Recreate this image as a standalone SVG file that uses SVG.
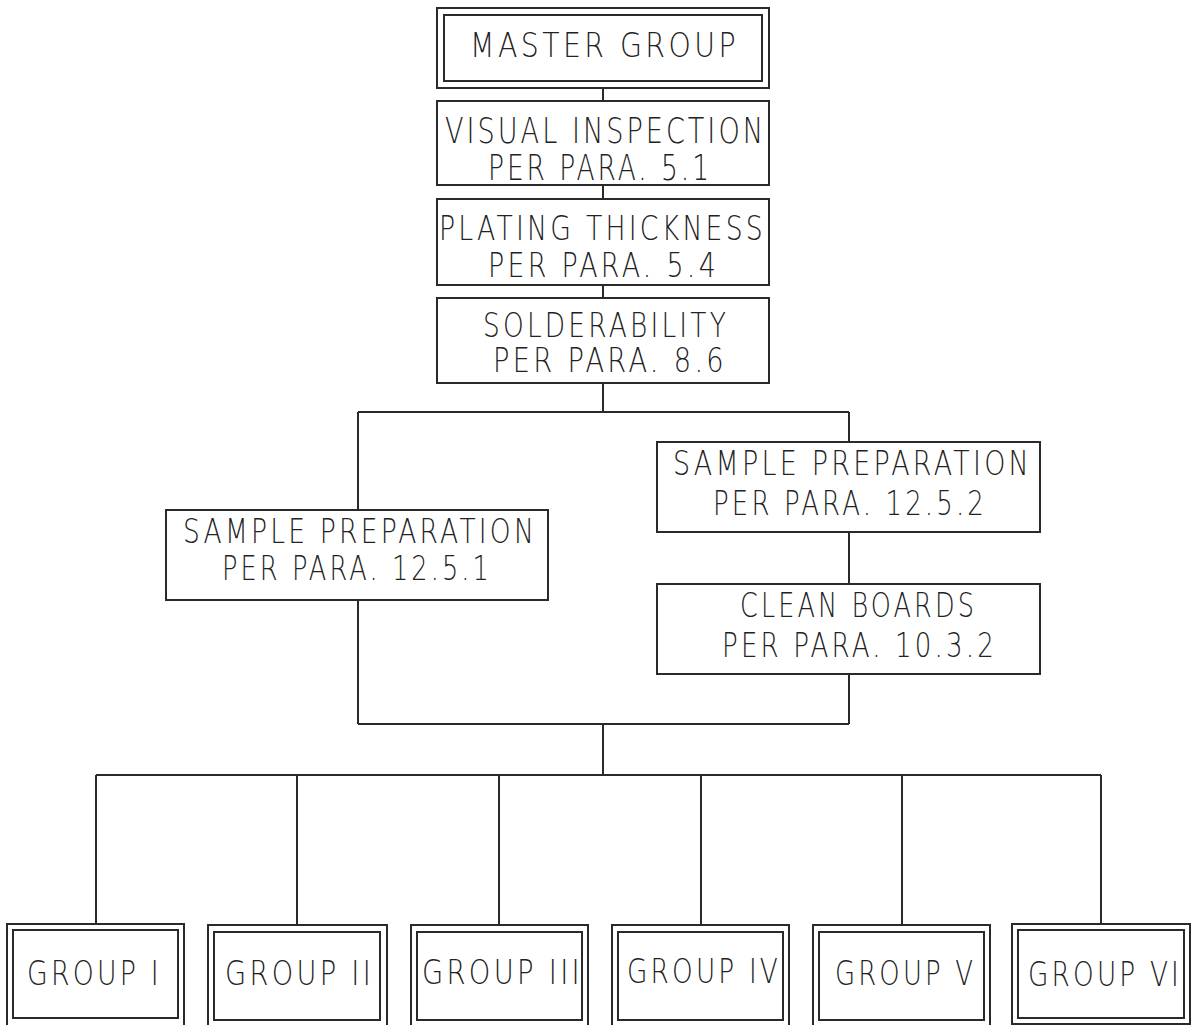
<svg xmlns="http://www.w3.org/2000/svg" width="1194" height="1025" viewBox="0 0 1194 1025">
<style>
.b{fill:none;stroke:#2a2a2a;stroke-width:2}
.c{fill:none;stroke:#2a2a2a;stroke-width:2}
text{font-family:"DejaVu Sans","Liberation Sans",sans-serif;font-weight:200;fill:#222;font-size:33px;letter-spacing:4px}
.L{font-size:36px}
</style>
<rect width="1194" height="1025" fill="#fff"/>
<g id="connectors">
<path class="c" d="M603 88V101M603 185V199M603 285V298M603 383V412M358 412H849M358 412V510M849 412V442M849 532V584M358 600V724M849 674V724M358 724H849M603 724V775M96 775H1101M96 775V924M297 775V925M499 775V925M701 775V925M902 775V925M1101 775V924"/>
</g>
<g id="master">
<rect class="b" x="437" y="8" width="332" height="80"/>
<rect class="b" x="444" y="15" width="318" height="66"/>
<text x="470" y="57" textLength="269" lengthAdjust="spacingAndGlyphs">MASTER GROUP</text>
</g>
<g id="visual">
<rect class="b" x="437" y="101" width="332" height="84"/>
<text class="L" x="445" y="143" textLength="321" lengthAdjust="spacingAndGlyphs">VISUAL INSPECTION</text>
<text class="L" x="488" y="180" textLength="224" lengthAdjust="spacingAndGlyphs">PER PARA. 5.1</text>
</g>
<g id="plating">
<rect class="b" x="437" y="199" width="332" height="86"/>
<text x="439" y="240" textLength="327" lengthAdjust="spacingAndGlyphs">PLATING THICKNESS</text>
<text x="488" y="277" textLength="231" lengthAdjust="spacingAndGlyphs">PER PARA. 5.4</text>
</g>
<g id="solder">
<rect class="b" x="437" y="298" width="332" height="85"/>
<text x="483" y="337" textLength="246" lengthAdjust="spacingAndGlyphs">SOLDERABILITY</text>
<text x="493" y="372" textLength="234" lengthAdjust="spacingAndGlyphs">PER PARA. 8.6</text>
</g>
<g id="prep1">
<rect class="b" x="166" y="510" width="382" height="90"/>
<text x="183" y="543" textLength="354" lengthAdjust="spacingAndGlyphs">SAMPLE PREPARATION</text>
<text x="222" y="580" textLength="270" lengthAdjust="spacingAndGlyphs">PER PARA. 12.5.1</text>
</g>
<g id="prep2">
<rect class="b" x="657" y="442" width="383" height="90"/>
<text x="673" y="475" textLength="359" lengthAdjust="spacingAndGlyphs">SAMPLE PREPARATION</text>
<text x="713" y="515" textLength="274" lengthAdjust="spacingAndGlyphs">PER PARA. 12.5.2</text>
</g>
<g id="clean">
<rect class="b" x="657" y="584" width="383" height="90"/>
<text x="740" y="617" textLength="237" lengthAdjust="spacingAndGlyphs">CLEAN BOARDS</text>
<text x="722" y="657" textLength="275" lengthAdjust="spacingAndGlyphs">PER PARA. 10.3.2</text>
</g>
<g id="g1">
<rect class="b" x="7" y="924" width="177" height="110"/>
<rect class="b" x="13" y="930" width="165" height="88"/>
<text x="27" y="985" textLength="135" lengthAdjust="spacingAndGlyphs">GROUP I</text>
</g>
<g id="g2">
<rect class="b" x="208" y="925" width="179" height="110"/>
<rect class="b" x="214" y="932" width="166" height="88"/>
<text x="225" y="985" textLength="149" lengthAdjust="spacingAndGlyphs">GROUP II</text>
</g>
<g id="g3">
<rect class="b" x="411" y="925" width="177" height="110"/>
<rect class="b" x="417" y="932" width="165" height="88"/>
<text x="422" y="984" textLength="161" lengthAdjust="spacingAndGlyphs">GROUP III</text>
</g>
<g id="g4">
<rect class="b" x="612" y="925" width="177" height="110"/>
<rect class="b" x="618" y="932" width="165" height="88"/>
<text x="627" y="983" textLength="154" lengthAdjust="spacingAndGlyphs">GROUP IV</text>
</g>
<g id="g5">
<rect class="b" x="813" y="925" width="177" height="110"/>
<rect class="b" x="819" y="932" width="165" height="88"/>
<text x="835" y="985" textLength="141" lengthAdjust="spacingAndGlyphs">GROUP V</text>
</g>
<g id="g6">
<rect class="b" x="1012" y="924" width="178" height="100"/>
<rect class="b" x="1018" y="930" width="166" height="88"/>
<text x="1028" y="986" textLength="154" lengthAdjust="spacingAndGlyphs">GROUP VI</text>
</g>
</svg>
